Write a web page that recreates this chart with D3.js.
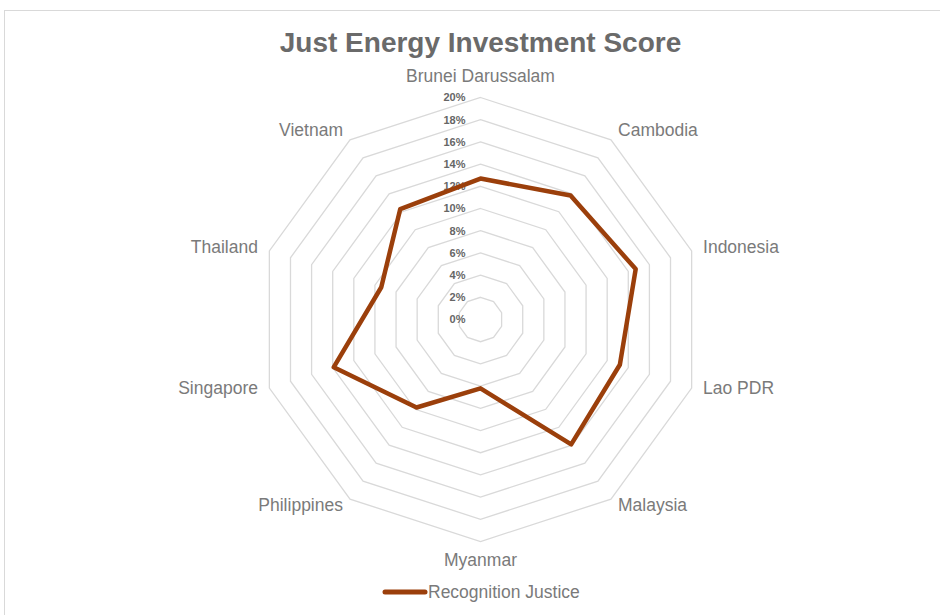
<!DOCTYPE html>
<html>
<head>
<meta charset="utf-8">
<script src="https://d3js.org/d3.v7.min.js"></script>
<style>
  body { margin: 0; background: #fff; }
  text { font-family: "Liberation Sans", Arial, sans-serif; }
</style>
</head>
<body>
<div id="chart"></div>
<script>
// Data
var countries = ["Brunei Darussalam", "Cambodia", "Indonesia", "Lao PDR", "Malaysia",
                 "Myanmar", "Philippines", "Singapore", "Thailand", "Vietnam"];
var recognitionJustice = [0.127, 0.138, 0.147, 0.132, 0.139, 0.062, 0.098, 0.139, 0.094, 0.123];
var tickValues = [0, 0.02, 0.04, 0.06, 0.08, 0.10, 0.12, 0.14, 0.16, 0.18, 0.20];
var seriesName = "Recognition Justice";
var chartTitle = "Just Energy Investment Score";

var width = 940, height = 615;
var cx = 480.5, cy = 319.5, radius = 222;
var lineColor = "#9b3f0b";

var svg = d3.select("#chart")
    .append("svg")
    .attr("width", width)
    .attr("height", height);

// chart area border
svg.append("rect")
    .attr("x", 4.5)
    .attr("y", 10.5)
    .attr("width", 960)
    .attr("height", 640)
    .attr("fill", "#fff")
    .attr("stroke", "#d9d9d9")
    .attr("stroke-width", 1);

svg.append("text")
    .attr("x", cx)
    .attr("y", 52)
    .attr("text-anchor", "middle")
    .attr("font-size", "28px")
    .attr("font-weight", "bold")
    .attr("fill", "#6a6a6a")
    .text(chartTitle);

var r = d3.scaleLinear().domain([0, 0.20]).range([0, radius]);
var angle = d3.scaleLinear().domain([0, countries.length]).range([0, 2 * Math.PI]);

var g = svg.append("g")
    .attr("transform", "translate(" + cx + "," + cy + ")");

// grid rings
var ring = d3.lineRadial()
    .angle(function (d, i) { return angle(i); })
    .radius(function (d) { return r(d); })
    .curve(d3.curveLinearClosed);

g.selectAll(".ring")
    .data(tickValues.filter(function (v) { return v > 0; }))
    .enter()
    .append("path")
    .attr("class", "ring")
    .attr("d", function (v) { return ring(countries.map(function () { return v; })); })
    .attr("fill", "none")
    .attr("stroke", "#d9d9d9")
    .attr("stroke-width", 1.3);

// value axis labels
g.selectAll(".tick")
    .data(tickValues)
    .enter()
    .append("text")
    .attr("class", "tick")
    .attr("x", -15)
    .attr("y", function (d) { return -r(d); })
    .attr("dy", "0.35em")
    .attr("text-anchor", "end")
    .attr("font-size", "11px")
    .attr("font-weight", "bold")
    .attr("fill", "#666")
    .text(d3.format(".0%"));

// category labels
g.selectAll(".cat")
    .data(countries)
    .enter()
    .append("text")
    .attr("class", "cat")
    .each(function (d, i) {
        var a = angle(i);
        var s = Math.sin(a), c = Math.cos(a);
        var off = c > 0.99 ? 22 : (c < -0.99 ? 18 : 12);
        var rr = radius + off;
        var shift = (c < 0 && c > -0.99) ? -4 : 0;
        d3.select(this)
            .attr("x", rr * s)
            .attr("y", -rr * c + shift)
            .attr("dy", "0.35em")
            .attr("text-anchor", Math.abs(s) < 0.01 ? "middle" : (s > 0 ? "start" : "end"));
    })
    .attr("font-size", "17.5px")
    .attr("fill", "#7a7a7a")
    .text(function (d) { return d; });

// data series
var dataLine = d3.lineRadial()
    .angle(function (d, i) { return angle(i); })
    .radius(function (d) { return r(d); })
    .curve(d3.curveLinearClosed);

g.append("path")
    .datum(recognitionJustice)
    .attr("d", dataLine)
    .attr("fill", "none")
    .attr("stroke", lineColor)
    .attr("stroke-width", 4.5)
    .attr("stroke-linejoin", "round");

// legend
var legend = svg.append("g")
    .attr("transform", "translate(385,592)");

legend.append("line")
    .attr("x1", 0)
    .attr("x2", 40)
    .attr("y1", 0)
    .attr("y2", 0)
    .attr("stroke", lineColor)
    .attr("stroke-width", 5)
    .attr("stroke-linecap", "round");

legend.append("text")
    .attr("x", 43)
    .attr("y", 0)
    .attr("dy", "0.35em")
    .attr("font-size", "17.5px")
    .attr("fill", "#7a7a7a")
    .text(seriesName);
</script>
</body>
</html>
